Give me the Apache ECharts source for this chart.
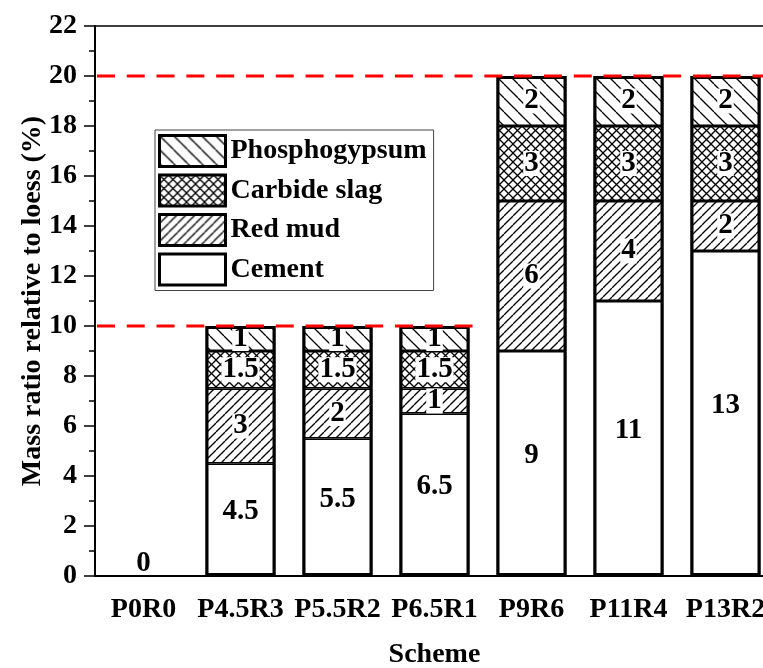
<!DOCTYPE html>
<html>
<head>
<meta charset="utf-8">
<script src="https://cdn.jsdelivr.net/npm/echarts@6/dist/echarts.min.js"></script>
<style>
html,body{margin:0;padding:0;background:#fff;}
#chart{width:763px;height:668px;}
</style>
</head>
<body>
<div id="chart"></div>
<script>
// ---- data ----
const categories = ['P0R0', 'P4.5R3', 'P5.5R2', 'P6.5R1', 'P9R6', 'P11R4', 'P13R2'];
const cement = [0, 4.5, 5.5, 6.5, 9, 11, 13];
const redMud = [0, 3, 2, 1, 6, 4, 2];
const carbideSlag = [0, 1.5, 1.5, 1.5, 3, 3, 3];
const phosphogypsum = [0, 1, 1, 1, 2, 2, 2];
const yMin = 0, yMax = 22, yInterval = 2;
const limit10 = [[-0.48, 10], [3.4, 10]];
const limit20 = [[-0.48, 20], [6.5, 20]];
const legendOrder = ['Phosphogypsum', 'Carbide slag', 'Red mud', 'Cement'];

const totals = categories.map(function (_, i) {
  return cement[i] + redMud[i] + carbideSlag[i] + phosphogypsum[i];
});

const FONT = '"Liberation Serif", "Times New Roman", serif';

function makePattern(period, dirs, lw) {
  const c = document.createElement('canvas');
  c.width = period; c.height = period;
  const ctx = c.getContext('2d');
  ctx.fillStyle = '#fff';
  ctx.fillRect(0, 0, period, period);
  ctx.strokeStyle = '#000';
  ctx.lineWidth = lw;
  dirs.forEach(function (d) {
    for (let k = -1; k <= 1; k++) {
      ctx.beginPath();
      if (d === 'back') {
        ctx.moveTo(k * period, 0);
        ctx.lineTo(k * period + period, period);
      } else {
        ctx.moveTo(k * period, period);
        ctx.lineTo(k * period + period, 0);
      }
      ctx.stroke();
    }
  });
  return { image: c, repeat: 'repeat' };
}

const patPhos = makePattern(14, ['back'], 1.3);
const patCarb = makePattern(9, ['back', 'fwd'], 1.3);
const patRed = makePattern(9, ['fwd'], 1.3);

function labelStyle(offsetY) {
  return {
    show: true,
    position: 'inside',
    offset: [0, offsetY],
    formatter: '{c}',
    fontFamily: FONT,
    fontSize: 29,
    fontWeight: 'bold',
    color: '#000',
    backgroundColor: '#fff',
    padding: [0, 1],
    lineHeight: 25
  };
}

function buildData(arr, isBase) {
  return arr.map(function (v) {
    if (v === 0) {
      if (isBase) {
        return { value: v, itemStyle: { borderWidth: 0 }, label: { position: 'top', distance: 0, offset: [0, 0], backgroundColor: 'transparent' } };
      }
      return { value: v, itemStyle: { borderWidth: 0 }, label: { show: false } };
    }
    return v;
  });
}

function barSeries(name, arr, color, isBase) {
  return {
    name: name,
    type: 'bar',
    stack: 'total',
    barWidth: 70,
    barGap: '-100%',
    data: buildData(arr, isBase),
    itemStyle: { color: color, borderColor: '#000', borderWidth: 1.5 },
    label: labelStyle(isBase ? -8 : 0),
    z: 2
  };
}

const chart = echarts.init(document.getElementById('chart'), null, { renderer: 'canvas' });

const option = {
  animation: false,
  backgroundColor: '#fff',
  grid: {
    left: 95, top: 26, width: 679, bottom: 92,
    outerBoundsMode: 'none',
    containLabel: false,
    show: true, borderColor: '#000', borderWidth: 1.5, backgroundColor: 'transparent'
  },
  legend: {
    data: legendOrder,
    orient: 'vertical',
    left: 155, top: 130,
    itemWidth: 66, itemHeight: 31, itemGap: 5.5,
    padding: [4, 7, 4, 3],
    borderColor: '#444', borderWidth: 1,
    backgroundColor: '#fff',
    icon: 'rect',
    itemStyle: { borderColor: '#000', borderWidth: 3 },
    textStyle: { fontFamily: FONT, fontSize: 28, fontWeight: 'bold', color: '#000', lineHeight: 31 }
  },
  xAxis: [{
    type: 'category',
    data: categories,
    name: 'Scheme',
    nameLocation: 'middle',
    nameGap: 65,
    nameMoveOverlap: false,
    nameTextStyle: { fontFamily: FONT, fontSize: 28, fontWeight: 'bold', color: '#000' },
    axisLine: { lineStyle: { color: '#000', width: 2 } },
    axisTick: { alignWithLabel: true, length: 11, lineStyle: { color: '#000', width: 1.5 } },
    axisLabel: { fontFamily: FONT, fontSize: 28, fontWeight: 'bold', color: '#000', margin: 20, interval: 0 },
    splitLine: { show: false }
  }, {
    type: 'value',
    min: -0.5, max: 6.5,
    show: false,
    gridIndex: 0
  }],
  yAxis: {
    type: 'value',
    min: yMin, max: yMax, interval: yInterval,
    name: 'Mass ratio relative to loess (%)',
    nameLocation: 'middle',
    nameGap: 48,
    nameMoveOverlap: false,
    nameTextStyle: { fontFamily: FONT, fontSize: 28, fontWeight: 'bold', color: '#000' },
    axisLine: { show: true, onZero: false, lineStyle: { color: '#000', width: 2 } },
    axisTick: { show: true, length: 11, lineStyle: { color: '#000', width: 1.5 } },
    minorTick: { show: true, splitNumber: 2, length: 6, lineStyle: { color: '#000', width: 1.5 } },
    axisLabel: { fontFamily: FONT, fontSize: 28, fontWeight: 'bold', color: '#000', margin: 18 },
    splitLine: { show: false }
  },
  series: [
    barSeries('Cement', cement, '#fff', true),
    barSeries('Red mud', redMud, patRed, false),
    barSeries('Carbide slag', carbideSlag, patCarb, false),
    barSeries('Phosphogypsum', phosphogypsum, patPhos, false),
    {
      name: 'outline',
      type: 'bar',
      barWidth: 70,
      barGap: '-100%',
      silent: true,
      z: 3,
      data: totals.map(function (v) { return v === 0 ? { value: v, itemStyle: { borderWidth: 0 } } : v; }),
      itemStyle: { color: 'transparent', borderColor: '#000', borderWidth: 3 },
      label: { show: false }
    },
    {
      type: 'line', xAxisIndex: 1, data: limit10, symbol: 'none', z: 10, silent: true,
      lineStyle: { color: '#ff0000', width: 3, type: [18, 11.8] }
    },
    {
      type: 'line', xAxisIndex: 1, data: limit20, symbol: 'none', z: 10, silent: true,
      lineStyle: { color: '#ff0000', width: 3, type: [18, 11.8] }
    }
  ]
};

chart.setOption(option);
</script>
</body>
</html>
